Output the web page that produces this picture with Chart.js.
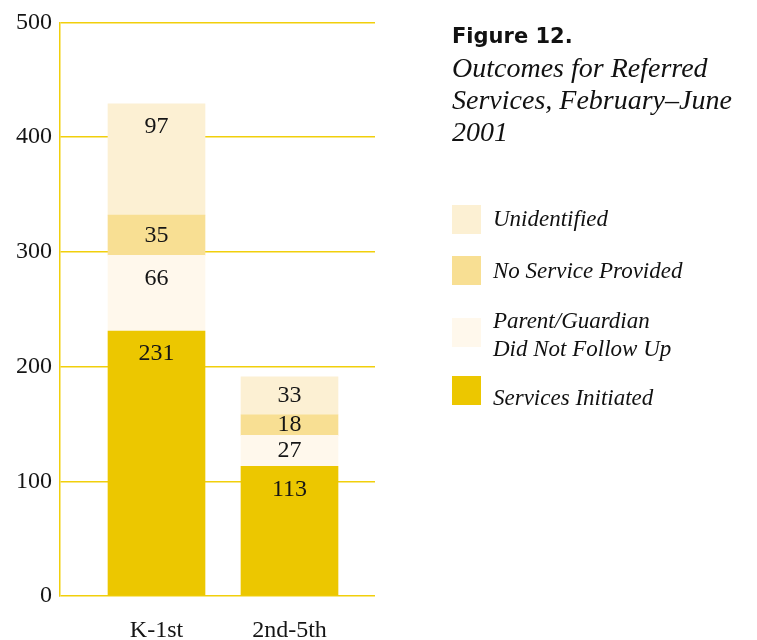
<!DOCTYPE html>
<html>
<head>
<meta charset="utf-8">
<script src="https://cdn.jsdelivr.net/npm/chart.js@4"></script>
<style>
  html, body { margin: 0; padding: 0; background: #fff; }
  #wrap { position: relative; width: 757px; height: 640px; }
  #plot { position: absolute; left: 0; top: 0; width: 757px; height: 640px; }
  #title { position: absolute; left: 452px; top: 20px; }
  #title .fig { font: bold 21px "DejaVu Sans", sans-serif; color: #111; line-height: 32px; }
  #title .sub { font: italic 28px "Liberation Serif", serif; color: #111; line-height: 32px; }
  .key { position: absolute; left: 452px; }
  .key .sw { position: absolute; left: 0; width: 29px; height: 29px; }
  .key .tx { position: absolute; left: 41px; font: italic 23px "Liberation Serif", serif; color: #111; line-height: 28px; white-space: nowrap; }
</style>
</head>
<body>
<div id="wrap">
  <canvas id="plot" width="757" height="640"></canvas>
  <div id="title">
    <div class="fig">Figure 12.</div>
    <div class="sub">Outcomes for Referred<br>Services, February–June<br>2001</div>
  </div>
  <div id="legend"></div>
</div>
<script>
// grade groups along the bottom
var grades = ["K-1st", "2nd-5th"];

// referral outcomes, bottom of the stack first
var servicesInitiated = [231, 113];
var parentNoFollowUp = [66, 27];
var noServiceProvided = [35, 18];
var unidentified = [97, 33];

var yTicks = [0, 100, 200, 300, 400, 500];

var gold = "#f1cf0c";
var serif = "Liberation Serif";

function pts(vals) {
    var out = [];
    for (var i in vals) {
        out.push({x: Number(i), y: vals[i]});
    }
    return out;
}

var sets = [
    {label: "Services Initiated", data: pts(servicesInitiated), backgroundColor: "#ecc700", legendTop: 376, lines: ["Services Initiated"], textTop: 384},
    {label: "Parent/Guardian Did Not Follow Up", data: pts(parentNoFollowUp), backgroundColor: "#fff8ec", legendTop: 318, lines: ["Parent/Guardian", "Did Not Follow Up"], textTop: 307},
    {label: "No Service Provided", data: pts(noServiceProvided), backgroundColor: "#f8df93", legendTop: 256, lines: ["No Service Provided"], textTop: 257},
    {label: "Unidentified", data: pts(unidentified), backgroundColor: "#fcf0d3", legendTop: 205, lines: ["Unidentified"], textTop: 205}
];

// value written near the top of each segment (centred when the segment is short)
var segmentLabels = {
    id: "segmentLabels",
    afterDatasetsDraw: function(chart) {
        var ctx = chart.ctx;
        ctx.save();
        ctx.font = "24px '" + serif + "'";
        ctx.fillStyle = "#151515";
        ctx.textAlign = "center";
        ctx.textBaseline = "middle";
        chart.data.datasets.forEach(function(ds, d) {
            chart.getDatasetMeta(d).data.forEach(function(bar, i) {
                var top = Math.min(bar.y, bar.base);
                var mid = (bar.y + bar.base) / 2;
                ctx.fillText(String(ds.data[i].y), bar.x, Math.min(top + 23, mid));
            });
        });
        ctx.restore();
    }
};

var chart = new Chart(document.getElementById("plot"), {
    type: "bar",
    data: {
        datasets: sets.map(function(s) {
            return {label: s.label, data: s.data, backgroundColor: s.backgroundColor, barThickness: 97};
        })
    },
    plugins: [segmentLabels],
    options: {
        responsive: false,
        animation: false,
        layout: {padding: {top: 20, right: 382, left: 0, bottom: 0}},
        plugins: {legend: {display: false}, tooltip: {enabled: false}},
        scales: {
            x: {
                type: "linear",
                stacked: true,
                offset: false,
                min: -0.7256,
                max: 1.6429,
                grid: {display: false, offset: false},
                border: {display: false},
                afterBuildTicks: function(scale) {
                    scale.ticks = grades.map(function(g, i) { return {value: i}; });
                },
                afterFit: function(scale) { scale.height = 44; },
                ticks: {
                    padding: 12,
                    color: "#151515",
                    font: {family: serif, size: 24},
                    callback: function(v) { return grades[v]; }
                }
            },
            y: {
                stacked: true,
                min: 0,
                max: 500,
                afterBuildTicks: function(scale) {
                    scale.ticks = yTicks.map(function(v) { return {value: v}; });
                },
                afterFit: function(scale) { scale.width = 60; },
                grid: {color: gold, lineWidth: 1.5, tickLength: 0},
                border: {color: gold, width: 1.5},
                ticks: {
                    padding: 8,
                    color: "#151515",
                    font: {family: serif, size: 24}
                }
            }
        }
    }
});

// key on the right, built from the same series
var legend = document.getElementById("legend");
sets.forEach(function(s) {
    var k = document.createElement("div");
    k.className = "key";
    k.style.top = s.legendTop + "px";
    var sw = document.createElement("div");
    sw.className = "sw";
    sw.style.background = s.backgroundColor;
    var tx = document.createElement("div");
    tx.className = "tx";
    tx.style.top = (s.textTop - s.legendTop) + "px";
    tx.innerHTML = s.lines.join("<br>");
    k.appendChild(sw);
    k.appendChild(tx);
    legend.appendChild(k);
});
</script>
</body>
</html>
